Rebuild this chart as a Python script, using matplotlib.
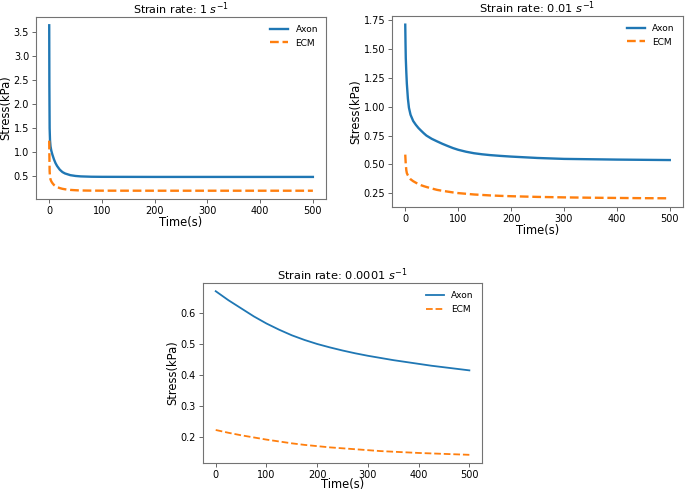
import numpy as np
import matplotlib
matplotlib.use('Agg')
import matplotlib.pyplot as plt

# strain rate 1 /s
t1 = [0, 0.3, 0.8, 1.5, 2.5, 4, 6, 9, 12, 15, 20, 25, 30, 40, 50, 60, 80, 100, 200, 300, 400, 500]
axon1 = [3.65, 2.4, 1.5, 1.25, 1.12, 1.03, 0.95, 0.85, 0.77, 0.71, 0.635, 0.585, 0.555, 0.52, 0.503,
         0.494, 0.487, 0.485, 0.483, 0.483, 0.483, 0.483]
ecm1 = [1.24, 0.95, 0.6, 0.48, 0.43, 0.39, 0.355, 0.315, 0.29, 0.27, 0.25, 0.235, 0.225, 0.212, 0.205,
        0.2, 0.197, 0.196, 0.195, 0.195, 0.195, 0.195]

# strain rate 0.01 /s
t2 = [0, 0.5, 1, 2, 3, 5, 7, 10, 15, 20, 25, 30, 35, 40, 50, 60, 70, 80, 90, 100, 115, 130, 145,
      160, 180, 200, 225, 250, 275, 300, 350, 400, 450, 500]
axon2 = [1.71, 1.55, 1.42, 1.30, 1.20, 1.07, 0.99, 0.93, 0.876, 0.843, 0.815, 0.792, 0.77, 0.75,
         0.722, 0.70, 0.679, 0.66, 0.642, 0.627, 0.61, 0.597, 0.588, 0.581, 0.574, 0.568, 0.562,
         0.556, 0.552, 0.548, 0.545, 0.542, 0.54, 0.538]
ecm2 = [0.585, 0.54, 0.50, 0.45, 0.425, 0.405, 0.39, 0.372, 0.355, 0.342, 0.33, 0.32, 0.312, 0.305,
        0.292, 0.28, 0.272, 0.265, 0.258, 0.252, 0.246, 0.24, 0.236, 0.232, 0.228, 0.225, 0.222,
        0.219, 0.217, 0.215, 0.212, 0.21, 0.208, 0.207]

# strain rate 0.0001 /s
t3 = [0, 25, 50, 75, 100, 125, 150, 175, 200, 225, 250, 275, 300, 325, 350, 375, 400, 425, 450, 475, 500]
axon3 = [0.670, 0.641, 0.615, 0.589, 0.566, 0.546, 0.528, 0.513, 0.500, 0.489, 0.479, 0.470, 0.462,
         0.455, 0.448, 0.442, 0.436, 0.430, 0.425, 0.420, 0.415]
ecm3 = [0.223, 0.214, 0.206, 0.199, 0.192, 0.186, 0.180, 0.175, 0.171, 0.167, 0.164, 0.161, 0.158,
        0.155, 0.153, 0.151, 0.149, 0.1475, 0.146, 0.1445, 0.143]

titles = ['Strain rate: 1 $s^{-1}$', 'Strain rate: 0.01 $s^{-1}$', 'Strain rate: 0.0001 $s^{-1}$']

matplotlib.rcParams['axes.edgecolor'] = '0.45'
matplotlib.rcParams['xtick.color'] = '0.3'
matplotlib.rcParams['ytick.color'] = '0.3'
matplotlib.rcParams['xtick.labelcolor'] = 'black'
matplotlib.rcParams['ytick.labelcolor'] = 'black'

fig = plt.figure(figsize=(6.85, 4.9), dpi=100)

ax1 = fig.add_axes([0.0526, 0.5939, 0.4234, 0.3714])
ax2 = fig.add_axes([0.5723, 0.5776, 0.4248, 0.3898])
ax3 = fig.add_axes([0.2964, 0.0551, 0.4073, 0.3673])

data = [(ax1, t1, axon1, ecm1, 1.7), (ax2, t2, axon2, ecm2, 1.7), (ax3, t3, axon3, ecm3, 1.3)]

for i, (ax, t, a, e, lw) in enumerate(data):
    ax.plot(t, a, color='#1f77b4', lw=lw, label='Axon')
    ax.plot(t, e, color='#ff7f0e', lw=lw, ls='--', label='ECM')
    ax.set_title(titles[i], fontsize=8.2, pad=2)
    ax.set_xlabel('Time(s)', fontsize=8.3, labelpad=0)
    ax.set_ylabel('Stress(kPa)', fontsize=8.3, labelpad=1)
    ax.tick_params(labelsize=7, length=3, width=0.6, pad=2)
    ax.set_xticks([0, 100, 200, 300, 400, 500])
    ax.legend(frameon=False, fontsize=6.5, loc='upper right')
    for s in ax.spines.values():
        s.set_linewidth(0.8)

ax1.set_title(titles[0], fontsize=8, pad=0.8)  # too close to the top edge otherwise
ax2.set_yticks([0.25, 0.5, 0.75, 1.0, 1.25, 1.5, 1.75])
ax3.set_xlabel('Time(s)', fontsize=8.3, labelpad=-1.5)

fig.savefig('out.png', dpi=100)
